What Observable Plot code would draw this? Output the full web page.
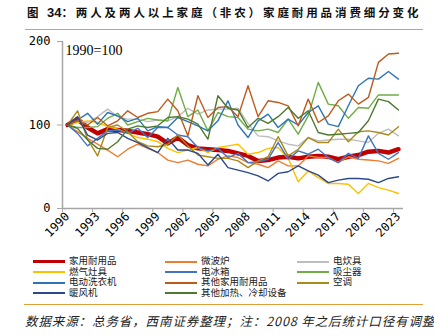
<!DOCTYPE html>
<html><head><meta charset="utf-8">
<script src="https://cdn.jsdelivr.net/npm/d3@7"></script>
<script src="https://cdn.jsdelivr.net/npm/@observablehq/plot@0.6"></script>
<style>
body{margin:0;width:434px;height:336px;background:#fff;position:relative;overflow:hidden;font-family:"Noto Sans CJK SC",sans-serif;}
#title{position:absolute;left:27px;top:4px;font-size:11.5px;font-weight:bold;letter-spacing:2.9px;white-space:nowrap;color:#111;}
#title .num{font-family:"Liberation Sans",Arial,sans-serif;font-size:13px;letter-spacing:0;}
.rule{position:absolute;height:1px;background:#E3A03A;}
#chart{position:absolute;left:0;top:30px;}
.lgline{position:absolute;}
.lgtext{position:absolute;font-family:"Liberation Serif","Noto Sans CJK SC",serif;font-size:9.5px;line-height:10px;white-space:nowrap;color:#222;}
#caption{position:absolute;left:25px;top:311px;font-size:12.5px;font-style:italic;letter-spacing:0.9px;white-space:nowrap;color:#222;}
</style>
</head><body>
<div id="title">图 <span class="num">34</span>：两人及两人以上家庭（非农）家庭耐用品消费细分变化</div>
<div class="rule" style="left:25px;top:29px;width:398px;"></div>
<div id="chart"></div>
<div id="legend"></div>
<div class="rule" style="left:24px;top:304px;width:399px;"></div>
<div id="caption">数据来源：总务省，西南证券整理；注：2008 年之后统计口径有调整</div>
<script>
const years = [1990,1991,1992,1993,1994,1995,1996,1997,1998,1999,2000,2001,2002,2003,2004,2005,2006,2007,2008,2009,2010,2011,2012,2013,2014,2015,2016,2017,2018,2019,2020,2021,2022,2023];
const tickYears = [1990,1993,1996,1999,2002,2005,2008,2011,2014,2017,2020,2023];
const yTicks = [0,100,200];

const household     = [100,107,97,90,95,94,93,91,89,86, 78,85,76,72,71,70,69,66,63,57, 58,61,62,60,62,63,62,59,62,64, 68,69,67,71];
const microwave     = [100,92,84,77,70,62,71,77,72,67, 58,55,58,53,51,59,63,61,55,53, 49,57,51,51,63,61,61,55,62,59, 58,57,54,60];
const cooker        = [100,105,103,110,119,110,107,107,104,106, 105,110,120,113,118,119,119,120,102,87, 86,81,77,75,85,81,82,83,83,81, 79,90,95,87];
const gasStove      = [100,103,105,103,98,95,90,85,83,80, 72,67,70,73,67,73,75,77,65,67, 72,73,60,32,45,37,30,30,29,18, 30,25,22,18];
const fridge        = [100,90,75,84,93,94,90,96,85,97, 97,88,86,73,69,72,61,66,55,56, 59,79,59,69,65,71,61,55,66,60, 87,66,59,67];
const vacuum        = [100,97,97,98,108,114,100,104,108,106, 105,145,110,118,93,115,110,109,95,93, 95,91,107,89,111,151,125,123,108,121, 120,136,136,136];
const washer        = [100,106,114,101,115,111,104,108,93,98, 97,109,104,99,93,105,129,100,85,105, 113,97,107,100,115,123,101,98,123,147, 156,155,164,155];
const otherDurable  = [100,105,100,109,99,105,117,109,114,116, 131,117,87,135,109,121,122,110,147,110, 129,127,123,99,131,103,111,129,137,125, 133,175,185,186];
const aircon        = [100,117,83,63,97,100,92,80,75,74, 77,88,75,64,62,60,60,57,49,57, 62,86,63,71,85,79,79,95,80,92, 93,91,88,98];
const heater        = [100,110,88,82,90,91,84,79,73,67, 84,70,70,66,52,65,49,46,43,39, 33,42,44,51,45,40,31,34,36,36, 35,31,36,38];
const otherHeatCool = [100,96,82,72,71,80,95,99,97,99, 109,110,107,101,83,135,120,118,97,108, 102,110,121,108,117,91,88,89,90,91, 105,131,128,118];

const seriesNames = ["家用耐用品","微波炉","电炊具","燃气灶具","电冰箱","吸尘器","电动洗衣机","其他家用耐用品","空调","暖风机","其他加热、冷却设备"];
const seriesValues = [household,microwave,cooker,gasStove,fridge,vacuum,washer,otherDurable,aircon,heater,otherHeatCool];
const seriesColors = ["#C00000","#ED7D31","#BDBDBD","#FFC000","#4472C4","#70AD47","#2E75B6","#BD5A1B","#A98A1A","#2B4A87","#4E7A2E"];

const rows = [];
seriesNames.forEach((name, k) => {
  years.forEach((yr, i) => rows.push({series: name, year: yr, value: seriesValues[k][i]}));
});
const mainRows = rows.filter(d => d.series === seriesNames[0]);
const otherRows = rows.filter(d => d.series !== seriesNames[0]);

const axisGray = "#A6A6A6";
const chart = Plot.plot({
  width: 434,
  height: 222,
  marginLeft: 62,
  marginRight: 31,
  marginTop: 11,
  marginBottom: 44,
  x: {domain: [years[0] - 0.5, years[years.length - 1] + 0.5], label: null},
  y: {domain: [0, 200], label: null},
  color: {domain: seriesNames, range: seriesColors},
  style: {fontFamily: "DejaVu Sans Mono", fontSize: "12px", color: "#000", background: "transparent"},
  marks: [
    Plot.ruleY([0], {stroke: axisGray, strokeWidth: 1.5}),
    Plot.ruleX([years[0] - 0.5], {stroke: axisGray, strokeWidth: 1.5}),
    Plot.axisY(yTicks, {tickSize: 5, tickPadding: 7, stroke: axisGray, fill: "#000", fontSize: 12, label: null}),
    Plot.axisX(tickYears.map(y => y - 0.5), {tickSize: 4, stroke: axisGray, tickFormat: () => "", label: null}),
    Plot.axisX(tickYears, {tickSize: 0, tickPadding: 6, tickRotate: -45, tickFormat: d => String(d), fill: "#000", fontSize: 12, label: null}),
    Plot.lineY(mainRows, {x: "year", y: "value", z: "series", stroke: "series", strokeWidth: 4.5}),
    Plot.lineY(otherRows, {x: "year", y: "value", z: "series", stroke: "series", strokeWidth: 1.4}),
    Plot.text(["1990=100"], {frameAnchor: "top-left", dx: 3, dy: 4, fontFamily: "Liberation Serif", fontSize: 14, textAnchor: "start", lineAnchor: "top"})
  ]
});
document.getElementById("chart").appendChild(chart);

const legend = document.getElementById("legend");
const colX = [33, 165, 297];
seriesNames.forEach((name, i) => {
  const col = i % 3, row = Math.floor(i / 3);
  const cy = 261.5 + row * 10.5;
  const ln = document.createElement("div");
  ln.className = "lgline";
  const h = i === 0 ? 3 : 2;
  ln.style.cssText = `left:${colX[col]}px;top:${cy - h / 2}px;width:32px;height:${h}px;background:${seriesColors[i]};`;
  legend.appendChild(ln);
  const tx = document.createElement("div");
  tx.className = "lgtext";
  tx.style.left = (colX[col] + 36) + "px";
  tx.style.top = (cy - 5.5) + "px";
  tx.textContent = name;
  legend.appendChild(tx);
});
</script>
</body></html>
